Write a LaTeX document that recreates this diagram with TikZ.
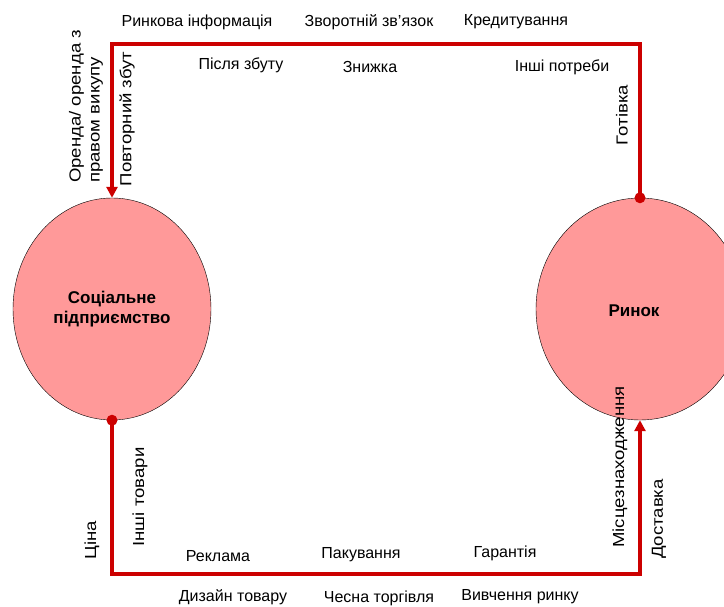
\documentclass[tikz,border=0pt]{standalone}
\usepackage{fontspec}
\setmainfont{Liberation Sans}
\usetikzlibrary{shapes.geometric}
\usetikzlibrary{arrows.meta}
\definecolor{flowred}{HTML}{CC0000}
\definecolor{bubble}{HTML}{FF9999}

\begin{document}
\begin{tikzpicture}[x=1pt,y=-1pt,
    party/.style={ellipse,draw=black,thin,fill=bubble,inner sep=0pt,align=center,font=\bfseries\fontsize{17}{20}\selectfont},
    flow/.style={draw=flowred,line width=3.2pt},
    tag/.style={inner sep=0pt,font=\fontsize{16}{19}\selectfont},
    vtag/.style={tag,rotate=90,xscale=1.16}]
    \useasboundingbox (0,0) rectangle (724,607);

    \node[party,minimum width=198pt,minimum height=222pt] (se) at (112,309) {Соціальне\\підприємство};
    \node[party,minimum width=208pt,minimum height=222pt] (mk) at (640,309) {};
    \node[font=\bfseries\fontsize{17}{20}\selectfont] (mklabel) at (634,311) {Ринок};

    \coordinate (top) at (0,44);
    \coordinate (bot) at (0,574);

    \draw[flow,-{Triangle[length=11pt,width=11pt]}] (mk.north) -- (mk.north |- top) -- (se.north |- top) -- (se.north);
    \draw[flow,-{Triangle[length=11pt,width=11pt]}] (se.south) -- (se.south |- bot) -- (mk.south |- bot) -- (mk.south);
    \fill[flowred] (mk.north) circle (5.5pt);
    \fill[flowred] (se.south) circle (5.5pt);

    \node[tag] (info) at (197,22) {Ринкова інформація};
    \node[tag] (fb) at (369,22) {Зворотній зв’язок};
    \node[tag] (credit) at (516,22) {Кредитування};
    \node[tag] (after) at (241,65) {Після збуту};
    \node[tag] (disc) at (370,67) {Знижка};
    \node[tag] (needs) at (562,67) {Інші потреби};
    \node[vtag] (cash) at (622,115) {Готівка};
    \node[vtag,anchor=west,align=left] (lease) at (86,183) {Оренда/ оренда з\\правом викупу};
    \node[vtag] (resale) at (127,119) {Повторний збут};

    \node[vtag] (price) at (92,540) {Ціна};
    \node[vtag] (goods) at (140,497) {Інші товари};
    \node[tag] (ads) at (218,556) {Реклама};
    \node[tag] (pack) at (361,555) {Пакування};
    \node[tag] (warr) at (505,553) {Гарантія};
    \node[tag] (design) at (233,597) {Дизайн товару};
    \node[tag] (fair) at (379,598) {Чесна торгівля};
    \node[tag] (study) at (520,597) {Вивчення ринку};
    \node[vtag] (place) at (620,467) {Місцезнаходження};
    \node[vtag] (deliv) at (659,519) {Доставка};
\end{tikzpicture}
\end{document}
